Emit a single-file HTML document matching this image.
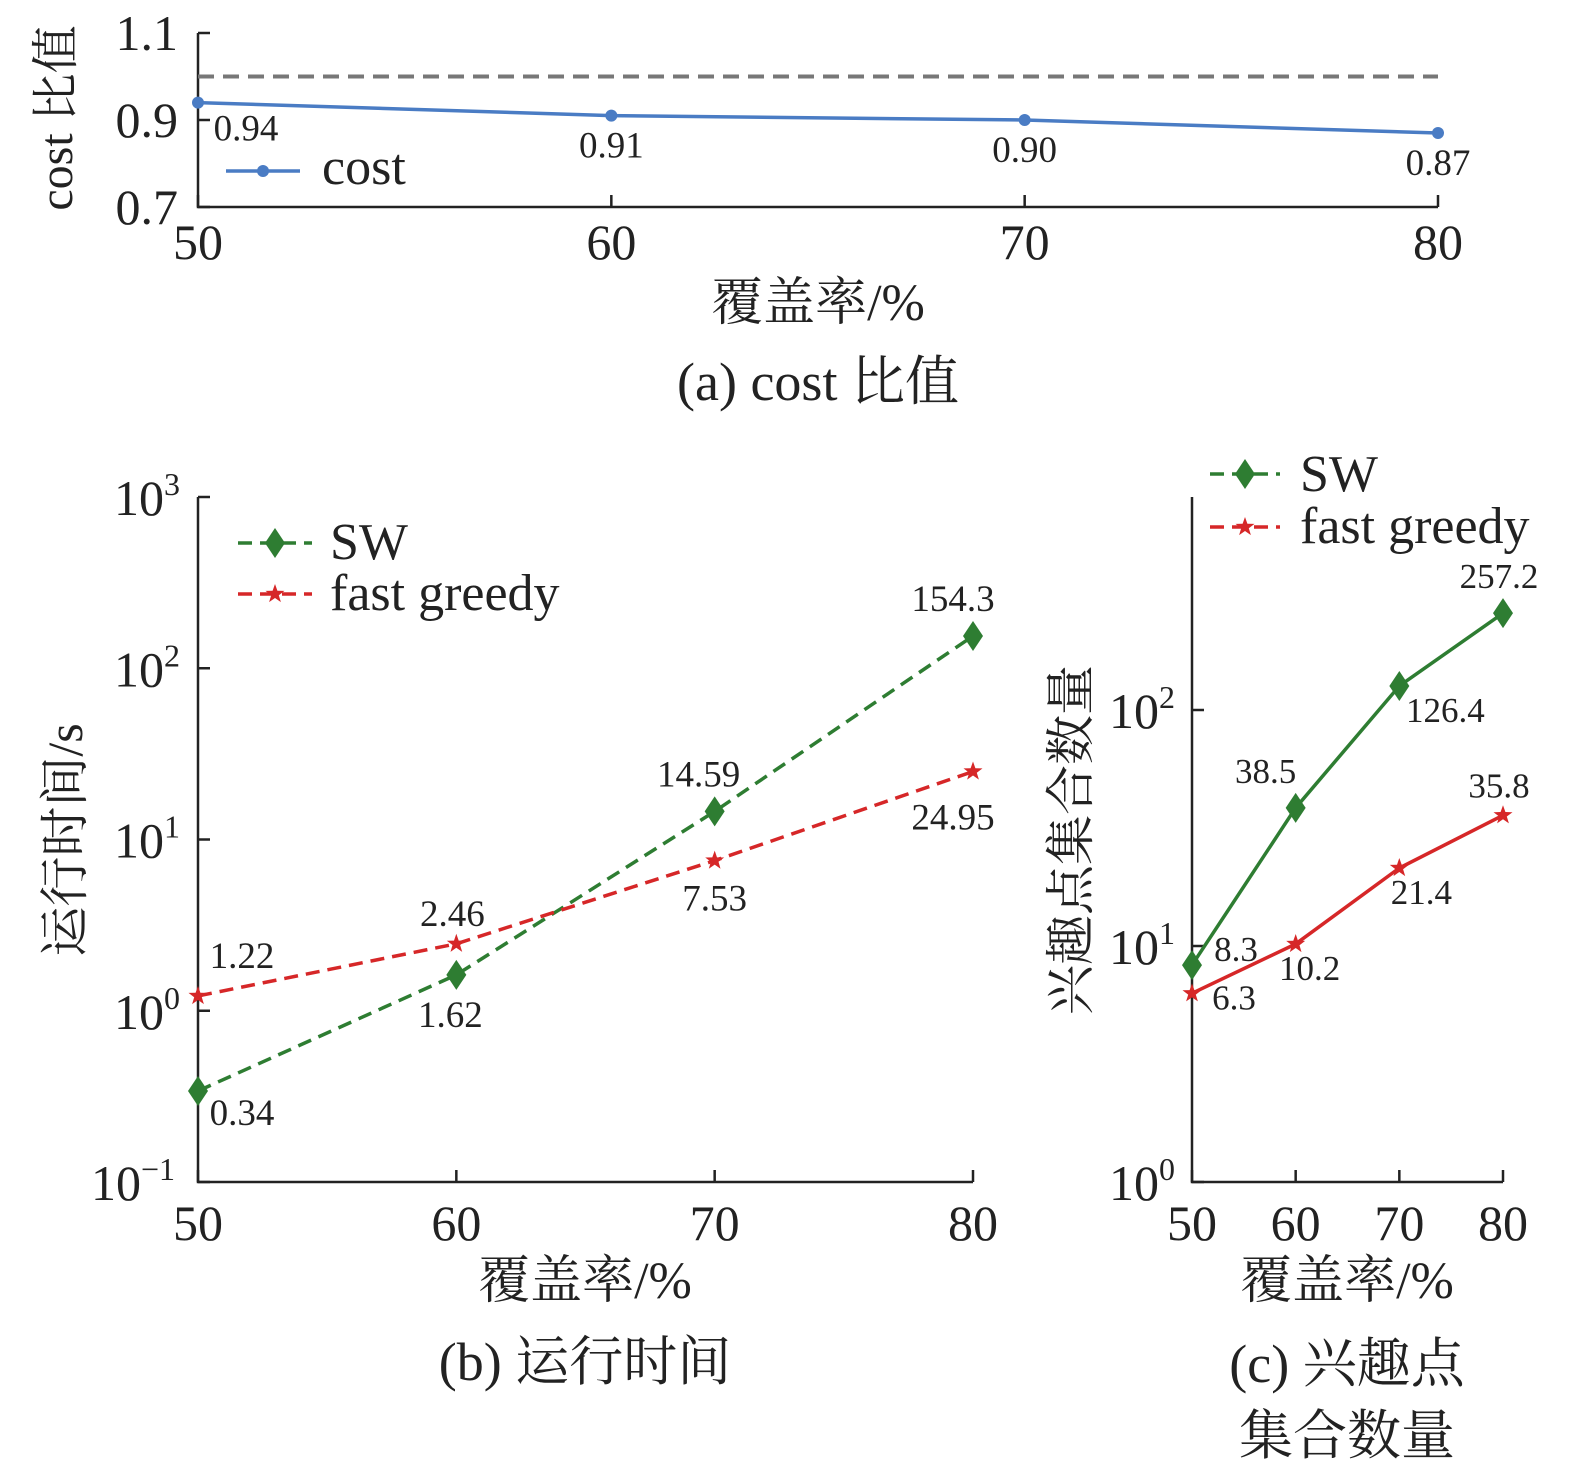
<!DOCTYPE html>
<html><head><meta charset="utf-8"><style>
html,body{margin:0;padding:0;background:#fff}
svg{display:block}
text{font-family:"Liberation Serif","Noto Serif CJK SC","Noto Sans CJK SC",serif;fill:#222}
</style></head><body>
<svg id="root" width="1575" height="1478" viewBox="0 0 1575 1478"></svg>
<script>
const xCats=[50,60,70,80];
const costVals=[0.94,0.91,0.90,0.87];
const costLabels=["0.94","0.91","0.90","0.87"];
const costRef=1.0;
const costTicks=[0.7,0.9,1.1];
const swTime=[0.34,1.62,14.59,154.3];
const fgTime=[1.22,2.46,7.53,24.95];
const swTimeLabels=["0.34","1.62","14.59","154.3"];
const fgTimeLabels=["1.22","2.46","7.53","24.95"];
const timeTicks=[-1,0,1,2,3];
const swSets=[8.3,38.5,126.4,257.2];
const fgSets=[6.3,10.2,21.4,35.8];
const swSetLabels=["8.3","38.5","126.4","257.2"];
const fgSetLabels=["6.3","10.2","21.4","35.8"];
const setTicks=[0,1,2];

const NS="http://www.w3.org/2000/svg";
const root=document.getElementById('root');
function mk(tag,attrs,parent,txt){const e=document.createElementNS(NS,tag);for(const k in attrs)e.setAttribute(k,attrs[k]);if(txt!==undefined)e.textContent=txt;(parent||root).appendChild(e);return e;}
const GREEN="#2e7d32",RED="#d62728",BLUE="#4a7cc4";
function diamond(g,x,y,c){return mk('polygon',{points:`${x},${y-15} ${x+10},${y} ${x},${y+15} ${x-10},${y}`,fill:c},g);}
function star(g,x,y,c){let p=[];for(let i=0;i<10;i++){const r=i%2?4:10,a=-Math.PI/2+i*Math.PI/5;p.push((x+r*Math.cos(a)).toFixed(1)+','+(y+r*Math.sin(a)).toFixed(1));}return mk('polygon',{points:p.join(' '),fill:c},g);}

// ---- chart a ----
(function(){
const g=mk('g',{});
const x=v=>198+(v-50)/30*1240, y=v=>207-(v-0.7)/0.4*174;
mk('path',{d:'M198,33 V207 H1438',stroke:'#222','stroke-width':2.5,fill:'none'},g);
costTicks.forEach(t=>{mk('line',{x1:198,x2:210,y1:y(t),y2:y(t),stroke:'#222','stroke-width':2.5},g);const l=mk('text',{x:178,y:y(t)+17,'font-size':50,'text-anchor':'end'},g,t.toFixed(1));});
xCats.forEach(c=>{mk('line',{x1:x(c),x2:x(c),y1:207,y2:195,stroke:'#222','stroke-width':2.5},g);const l=mk('text',{x:x(c),y:259,'font-size':50,'text-anchor':'middle'},g,c);});
const ref=mk('line',{x1:198,x2:1438,y1:y(costRef),y2:y(costRef),stroke:'#777','stroke-width':4,'stroke-dasharray':'16,9'},g);
const ln=mk('polyline',{points:costVals.map((v,i)=>x(xCats[i])+','+y(v)).join(' '),stroke:BLUE,'stroke-width':3.5,fill:'none'},g);
const offs=[[48,38],[0,42],[0,42],[0,42]];
costVals.forEach((v,i)=>{const p=mk('circle',{cx:x(xCats[i]),cy:y(v),r:6,fill:BLUE},g);
const l=mk('text',{x:x(xCats[i])+offs[i][0],y:y(v)+offs[i][1],'font-size':37,'text-anchor':'middle'},g,costLabels[i]);});
mk('line',{x1:226,x2:300,y1:171,y2:171,stroke:BLUE,'stroke-width':3.5},g);mk('circle',{cx:263,cy:171,r:6,fill:BLUE},g);
const lt=mk('text',{x:322,y:184,'font-size':52},g,'cost');
const yt=mk('text',{transform:'translate(72,118) rotate(-90)','font-size':48,'text-anchor':'middle'},g,'cost 比值');
const xt=mk('text',{x:818,y:320,'font-size':52,'text-anchor':'middle'},g,'覆盖率/%');
const ct=mk('text',{x:818,y:400,'font-size':54,'text-anchor':'middle'},g,'(a) cost 比值');
})();

// ---- chart b ----
(function(){
const g=mk('g',{});
const x=v=>198+(v-50)/30*775, y=v=>1182-(Math.log10(v)+1)*171.25;
mk('path',{d:'M198,497 V1182 H973',stroke:'#222','stroke-width':2.5,fill:'none'},g);
timeTicks.forEach(t=>{const yy=1182-(t+1)*171.25;mk('line',{x1:198,x2:210,y1:yy,y2:yy,stroke:'#222','stroke-width':2.5},g);
const l=mk('text',{x:t<0?175:180,y:yy+18,'font-size':50,'text-anchor':'end'},g,'10');mk('tspan',{dy:-20,'font-size':32},l,t<0?'−1':String(t));});
xCats.forEach(c=>{mk('line',{x1:x(c),x2:x(c),y1:1182,y2:1170,stroke:'#222','stroke-width':2.5},g);const l=mk('text',{x:x(c),y:1240,'font-size':50,'text-anchor':'middle'},g,c);});
const s1=mk('polyline',{points:swTime.map((v,i)=>x(xCats[i])+','+y(v)).join(' '),stroke:GREEN,'stroke-width':3.5,fill:'none','stroke-dasharray':'14,8'},g);
const s2=mk('polyline',{points:fgTime.map((v,i)=>x(xCats[i])+','+y(v)).join(' '),stroke:RED,'stroke-width':3.5,fill:'none','stroke-dasharray':'14,8'},g);
const swOff=[[44,34],[-6,52],[-16,-25],[-20,-25]], fgOff=[[44,-28],[-4,-18],[0,50],[-20,58]];
swTime.forEach((v,i)=>{const m=diamond(g,x(xCats[i]),y(v),GREEN);
const l=mk('text',{x:x(xCats[i])+swOff[i][0],y:y(v)+swOff[i][1],'font-size':37,'text-anchor':'middle'},g,swTimeLabels[i]);});
fgTime.forEach((v,i)=>{const m=star(g,x(xCats[i]),y(v),RED);
const l=mk('text',{x:x(xCats[i])+fgOff[i][0],y:y(v)+fgOff[i][1],'font-size':37,'text-anchor':'middle'},g,fgTimeLabels[i]);});
mk('line',{x1:238,x2:312,y1:543,y2:543,stroke:GREEN,'stroke-width':3.5,'stroke-dasharray':'14,8'},g);diamond(g,275,543,GREEN);
let l=mk('text',{x:330,y:559,'font-size':52},g,'SW');
mk('line',{x1:238,x2:312,y1:594,y2:594,stroke:RED,'stroke-width':3.5,'stroke-dasharray':'14,8'},g);star(g,275,594,RED);
l=mk('text',{x:330,y:610,'font-size':52},g,'fast greedy');
l=mk('text',{transform:'translate(82,840) rotate(-90)','font-size':50,'text-anchor':'middle'},g,'运行时间/s');
l=mk('text',{x:585,y:1298,'font-size':52,'text-anchor':'middle'},g,'覆盖率/%');
l=mk('text',{x:585,y:1380,'font-size':54,'text-anchor':'middle'},g,'(b) 运行时间');
})();

// ---- chart c ----
(function(){
const g=mk('g',{});
const x=v=>1192+(v-50)/30*311, y=v=>1182-Math.log10(v)*236;
mk('path',{d:'M1192,497 V1182 H1503',stroke:'#222','stroke-width':2.5,fill:'none'},g);
setTicks.forEach(t=>{const yy=1182-t*236;mk('line',{x1:1192,x2:1204,y1:yy,y2:yy,stroke:'#222','stroke-width':2.5},g);
const l=mk('text',{x:1175,y:yy+18,'font-size':50,'text-anchor':'end'},g,'10');mk('tspan',{dy:-20,'font-size':32},l,String(t));});
xCats.forEach(c=>{mk('line',{x1:x(c),x2:x(c),y1:1182,y2:1170,stroke:'#222','stroke-width':2.5},g);const l=mk('text',{x:x(c),y:1240,'font-size':50,'text-anchor':'middle'},g,c);});
const s1=mk('polyline',{points:swSets.map((v,i)=>x(xCats[i])+','+y(v)).join(' '),stroke:GREEN,'stroke-width':3.5,fill:'none'},g);
const s2=mk('polyline',{points:fgSets.map((v,i)=>x(xCats[i])+','+y(v)).join(' '),stroke:RED,'stroke-width':3.5,fill:'none'},g);
const swOff=[[44,-4],[-30,-25],[46,36],[-4,-25]], fgOff=[[42,16],[14,36],[22,36],[-4,-18]];
swSets.forEach((v,i)=>{const m=diamond(g,x(xCats[i]),y(v),GREEN);
const l=mk('text',{x:x(xCats[i])+swOff[i][0],y:y(v)+swOff[i][1],'font-size':35,'text-anchor':'middle'},g,swSetLabels[i]);});
fgSets.forEach((v,i)=>{const m=star(g,x(xCats[i]),y(v),RED);
const l=mk('text',{x:x(xCats[i])+fgOff[i][0],y:y(v)+fgOff[i][1],'font-size':35,'text-anchor':'middle'},g,fgSetLabels[i]);});
mk('line',{x1:1210,x2:1280,y1:474,y2:474,stroke:GREEN,'stroke-width':3.5,'stroke-dasharray':'14,8'},g);diamond(g,1245,474,GREEN);
let l=mk('text',{x:1300,y:491,'font-size':52},g,'SW');
mk('line',{x1:1210,x2:1280,y1:527,y2:527,stroke:RED,'stroke-width':3.5,'stroke-dasharray':'14,8'},g);star(g,1245,527,RED);
l=mk('text',{x:1300,y:543,'font-size':52},g,'fast greedy');
l=mk('text',{transform:'translate(1088,840) rotate(-90)','font-size':50,'text-anchor':'middle'},g,'兴趣点集合数量');
l=mk('text',{x:1347,y:1298,'font-size':52,'text-anchor':'middle'},g,'覆盖率/%');
l=mk('text',{x:1347,y:1382,'font-size':54,'text-anchor':'middle'},g,'(c) 兴趣点');
l=mk('text',{x:1347,y:1454,'font-size':54,'text-anchor':'middle'},g,'集合数量');
})();
</script>
</body></html>
